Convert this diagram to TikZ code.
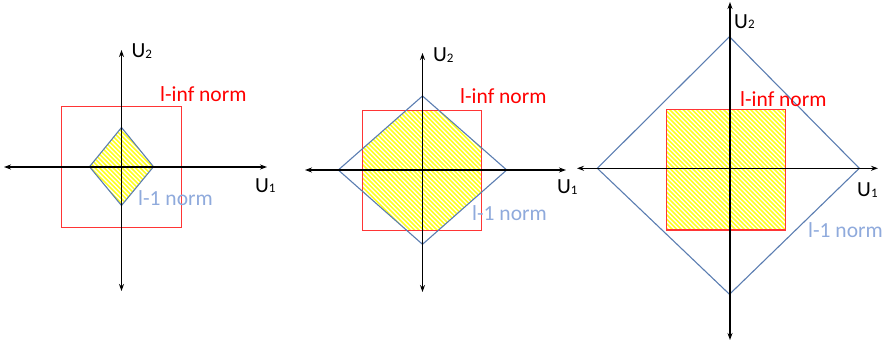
\documentclass[tikz,border=0pt]{standalone}
\usepackage{fontspec}
\setmainfont{Carlito}
\usetikzlibrary{arrows.meta}
\definecolor{normred}{HTML}{FF0000}
\definecolor{sqred}{HTML}{FF3535}
\definecolor{dblue}{HTML}{5B7DB1}
\definecolor{lblue}{HTML}{8FAADC}
\definecolor{hyellow}{HTML}{FFFF20}
\newcommand\usub[1]{U\raisebox{-0.6pt}{\fontsize{13}{13}\selectfont #1}}
\tikzset{
  axis/.style={black, line width=1.1pt, {Stealth[length=7pt,width=5pt]}-{Stealth[length=7pt,width=5pt]}},
  infbox/.style={sqred, line width=1.1pt},
  onebox/.style={dblue, line width=1.1pt},
  lbl/.style={inner sep=0pt, anchor=west, font=\fontsize{21.5}{21.5}\selectfont},
  hatchline/.style={hyellow, line width=1.5pt},
}
\newcommand\hatchit[2]{%
  \foreach \k in {-320,-315.5,...,320}
    \draw[hatchline] (#1+\k-160,#2-160) -- ++(320,320);}
\begin{document}
\begin{tikzpicture}[x=1pt,y=-1pt]
\useasboundingbox (0,0) rectangle (887,350);

% ---------- Panel 1 ----------
\begin{scope}
  \clip (121.5,127.5) -- (153.5,166.7) -- (121.5,205.5) -- (89.5,166.7) -- cycle;
  \hatchit{121.5}{166.7}
\end{scope}
\draw[infbox] (61.7,106.7) rectangle (181.7,227.7);
\draw[onebox] (121.5,127.5) -- (153.5,166.7) -- (121.5,205.5) -- (89.5,166.7) -- cycle;
\coordinate (a1l) at (4,167);
\coordinate (a1r) at (267,167);
\coordinate (a1t) at (121.5,50);
\coordinate (a1b) at (121.5,291);
\draw[axis] (a1l) -- (a1r);
\draw[axis] (a1b) -- (a1t);
\node[lbl] (u2a) at (131.5,51) {\usub{2}};
\node[lbl] (u1a) at (255,185.5) {\usub{1}};
\node[lbl, text=normred] (infa) at (160,94) {l-inf norm};
\node[lbl, text=lblue] (onea) at (138,198.3) {l-1 norm};

% ---------- Panel 2 ----------
\begin{scope}
  \clip (362.7,110.7) rectangle (481.7,230.7);
  \clip (422.5,96) -- (506.7,170) -- (422.5,244.3) -- (338.3,170) -- cycle;
  \hatchit{422.5}{170}
\end{scope}
\draw[infbox] (362.7,110.7) rectangle (481.7,230.7);
\draw[onebox] (422.5,96) -- (506.7,170) -- (422.5,244.3) -- (338.3,170) -- cycle;
\coordinate (a2l) at (305,170);
\coordinate (a2r) at (566,170);
\coordinate (a2t) at (422.5,53);
\coordinate (a2b) at (422.5,292);
\draw[axis] (a2l) -- (a2r);
\draw[axis] (a2b) -- (a2t);
\node[lbl] (u2b) at (433,55) {\usub{2}};
\node[lbl] (u1b) at (557,187) {\usub{1}};
\node[lbl, text=normred] (infb) at (460,96) {l-inf norm};
\node[lbl, text=lblue] (oneb) at (472,213) {l-1 norm};

% ---------- Panel 3 ----------
\begin{scope}
  \clip (666.7,109.3) rectangle (785.7,230);
  \hatchit{726}{170}
\end{scope}
\draw[infbox] (666.7,109.3) rectangle (785.7,230);
\draw[onebox] (729.5,36.7) -- (859.3,168.3) -- (729.5,294.3) -- (597.3,168.3) -- cycle;
\coordinate (a3l) at (577,168.3);
\coordinate (a3r) at (878,168.3);
\coordinate (a3t) at (730,2);
\coordinate (a3b) at (730,340);
\draw[axis] (a3l) -- (a3r);
\draw[axis] (a3b) -- (a3t);
\node[lbl] (u2c) at (734,21.7) {\usub{2}};
\node[lbl] (u1c) at (857,190) {\usub{1}};
\node[lbl, text=normred] (infc) at (740,99) {l-inf norm};
\node[lbl, text=lblue] (onec) at (808,230) {l-1 norm};
\end{tikzpicture}
\end{document}
